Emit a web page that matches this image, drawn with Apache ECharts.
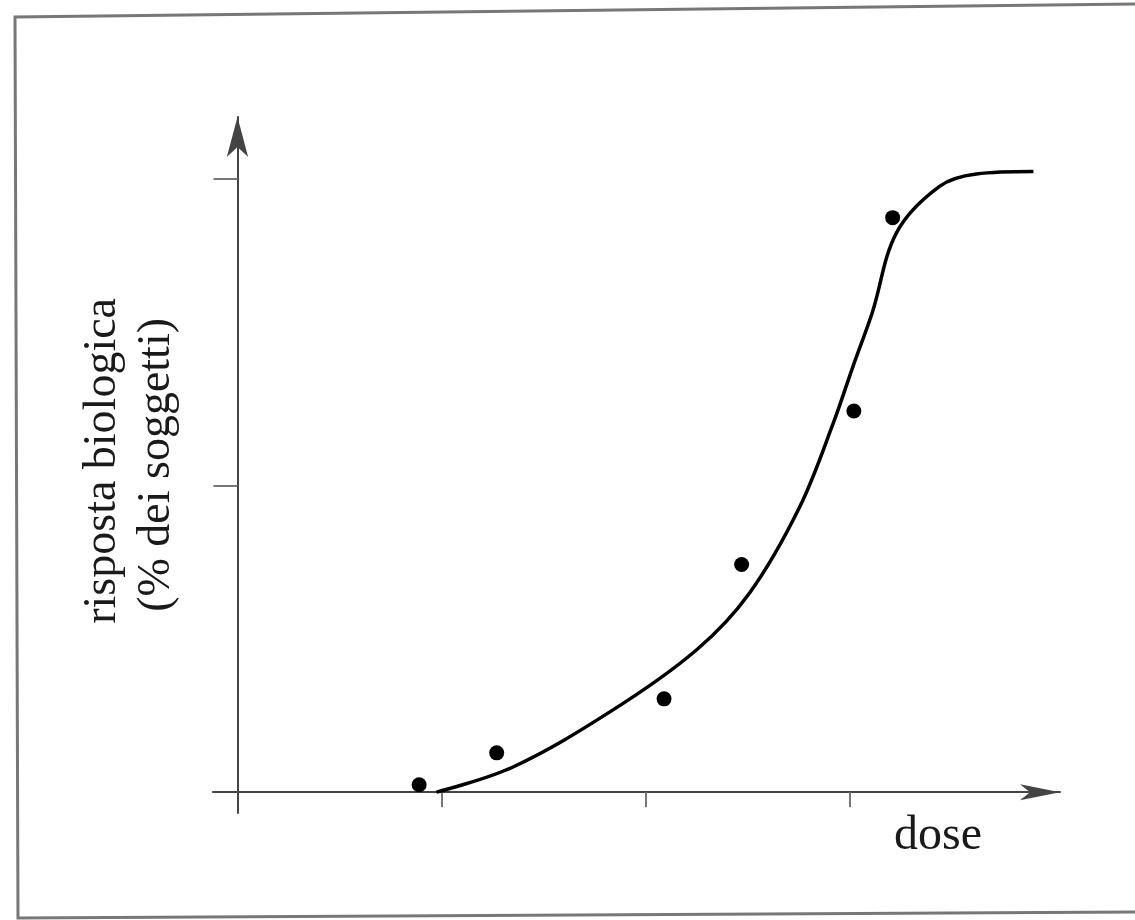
<!DOCTYPE html>
<html>
<head>
<meta charset="utf-8">
<title>risposta biologica</title>
<script src="https://cdn.jsdelivr.net/npm/echarts@6/dist/echarts.min.js"></script>
<style>
  html, body { margin: 0; padding: 0; background: #fff; }
  #main { width: 1135px; height: 920px; }
</style>
</head>
<body>
<div id="main"></div>
<script>
// curva dose-risposta (dose, % dei soggetti)
var curveDose = [0.975, 1.35, 1.84, 2.25, 2.51, 2.755, 2.92, 3.015, 3.11, 3.23, 3.44, 3.62, 3.90];
var curveResp = [0, 4.1, 13.4, 23.2, 32.5, 46.5, 60.2, 69.3, 78.1, 91.2, 98.7, 100.7, 101.1];
// punti sperimentali
var pointDose = [0.89, 1.27, 2.09, 2.47, 3.02, 3.21];
var pointResp = [1.2, 6.4, 15.2, 37.1, 62.1, 93.6];
// tacche degli assi
var doseTicks = [1, 2, 3];
var respTicks = [50, 100];

var yTitle1 = 'risposta biologica';
var yTitle2 = '(% dei soggetti)';
var xTitle = 'dose';

function pairs(xs, ys) {
    var out = [];
    for (var i = 0; i < xs.length; i++) {
        out.push([xs[i], ys[i]]);
    }
    return out;
}

var chart = echarts.init(document.getElementById('main'));
var serif = '"Liberation Serif", "DejaVu Serif", serif';
var axisGray = '#444';

var option = {
    backgroundColor: '#fff',
    animation: false,
    grid: { left: 213, right: 75, top: 117, bottom: 107 },
    xAxis: {
        type: 'value',
        min: -0.12,
        max: 4.03,
        axisLine: {
            onZero: true,
            symbol: ['none', 'arrow'],
            symbolSize: [12, 40],
            lineStyle: { color: axisGray, width: 2 }
        },
        axisTick: { show: true, customValues: doseTicks, length: 15, lineStyle: { color: '#777', width: 2 } },
        axisLabel: { show: false },
        splitLine: { show: false }
    },
    yAxis: {
        type: 'value',
        min: -3.4,
        max: 110,
        axisLine: {
            onZero: true,
            symbol: ['none', 'arrow'],
            symbolSize: [16, 40],
            lineStyle: { color: axisGray, width: 2 }
        },
        axisTick: { show: true, customValues: respTicks, length: 24, lineStyle: { color: '#777', width: 2 } },
        axisLabel: { show: false },
        splitLine: { show: false }
    },
    series: [
        {
            type: 'line',
            data: pairs(curveDose, curveResp),
            smooth: 0.35,
            showSymbol: false,
            lineStyle: { color: '#000', width: 3.5 },
            z: 3
        },
        {
            type: 'scatter',
            data: pairs(pointDose, pointResp),
            symbol: 'circle',
            symbolSize: 15,
            itemStyle: { color: '#000', opacity: 1 },
            z: 4
        }
    ],
    graphic: [
        // cornice della pagina scansionata
        { type: 'polyline', shape: { points: [[1135, 4], [15, 17], [18, 918], [1135, 912]] },
          style: { stroke: '#777', lineWidth: 3, fill: null }, silent: true },
        { type: 'text', left: 80, top: 298, rotation: Math.PI / 2,
          style: { text: yTitle1, font: '46px ' + serif, fill: '#1a1a1a' }, silent: true },
        { type: 'text', left: 134, top: 318, rotation: Math.PI / 2,
          style: { text: yTitle2, font: '46px ' + serif, fill: '#1a1a1a' }, silent: true },
        { type: 'text', left: 894, top: 812,
          style: { text: xTitle, font: '48px ' + serif, fill: '#1a1a1a' }, silent: true }
    ]
};
chart.setOption(option);
</script>
</body>
</html>
